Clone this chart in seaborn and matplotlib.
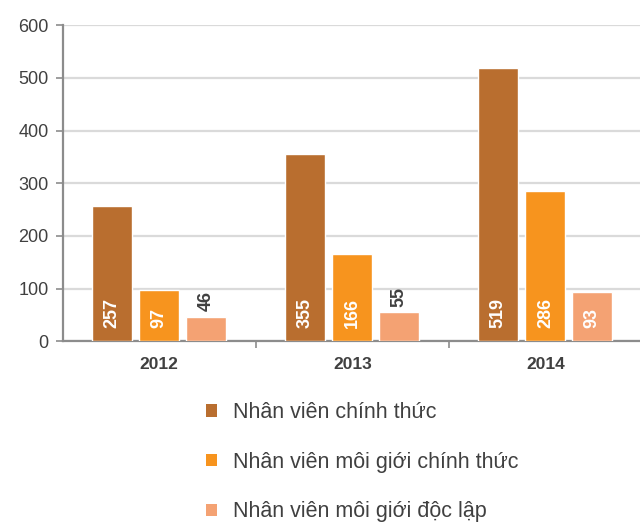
import pandas as pd
import seaborn as sns
import matplotlib.pyplot as plt
from matplotlib.patches import Patch

years = ["2012", "2013", "2014"]
series = ["Nhân viên chính thức", "Nhân viên môi giới chính thức", "Nhân viên môi giới độc lập"]
chinh_thuc = [257, 355, 519]
moi_gioi_chinh_thuc = [97, 166, 286]
moi_gioi_doc_lap = [46, 55, 93]

colors = ["#B96E2F", "#F7941E", "#F4A273"]

df = pd.DataFrame({
    "year": years * 3,
    "group": [series[0]] * 3 + [series[1]] * 3 + [series[2]] * 3,
    "value": chinh_thuc + moi_gioi_chinh_thuc + moi_gioi_doc_lap,
})

sns.set_style("white")
plt.rcParams['font.family'] = ['Liberation Sans', 'DejaVu Sans']

fig = plt.figure(figsize=(6.4, 5.25), dpi=100)
ax = fig.add_axes([0.098, 0.350, 0.905, 0.602])

sns.barplot(data=df, x="year", y="value", hue="group", hue_order=series,
            palette=colors, width=0.73, gap=0.15, saturation=1,
            legend=False, ax=ax, zorder=3)

ax.set_ylim(0, 600)
ax.set_xlim(-0.5, 2.5)
ax.set_yticks(range(0, 601, 100))
ax.yaxis.grid(True, color="#DADADA", linewidth=1.6, zorder=0)
ax.set_xlabel("")
ax.set_ylabel("")

for s in ["top", "right"]:
    ax.spines[s].set_visible(False)
for s in ["left", "bottom"]:
    ax.spines[s].set_color("#8C8C8C")
    ax.spines[s].set_linewidth(1.6)

ax.tick_params(axis="y", labelsize=13, labelcolor="#404040", color="#8C8C8C",
               length=5, width=1.2, left=True, pad=5)
ax.tick_params(axis="x", which="major", length=0, labelsize=12.5, labelcolor="#404040", pad=11)
ax.set_xticks([0.5, 1.5, 2.5], minor=True)
ax.tick_params(axis="x", which="minor", length=5, width=1.2, color="#8C8C8C", bottom=True)
for lbl in ax.get_xticklabels():
    lbl.set_fontweight("bold")

# value labels: inside bottom (white) if the bar is tall enough, otherwise above (gray)
for cont in ax.containers:
    for bar in cont:
        h = bar.get_height()
        xc = bar.get_x() + bar.get_width() / 2
        if h >= 80:
            ax.annotate(f"{h:.0f}", (xc, 0), xytext=(0, 9.5), textcoords="offset points",
                        rotation=90, ha="center", va="bottom", color="white",
                        fontsize=13, fontweight="bold", zorder=4)
        else:
            ax.annotate(f"{h:.0f}", (xc, h), xytext=(0, 4), textcoords="offset points",
                        rotation=90, ha="center", va="bottom", color="#404040",
                        fontsize=13, fontweight="bold", zorder=4)

handles = [Patch(facecolor=c, edgecolor="none") for c in colors]
fig.legend(handles, series, loc="upper left", bbox_to_anchor=(0.322, 0.234),
           frameon=False, fontsize=15.5, labelcolor="#404040",
           handlelength=0.5, handleheight=0.5, handletextpad=0.75,
           labelspacing=1.33, borderpad=0, borderaxespad=0)

fig.savefig("out.png", dpi=100)
